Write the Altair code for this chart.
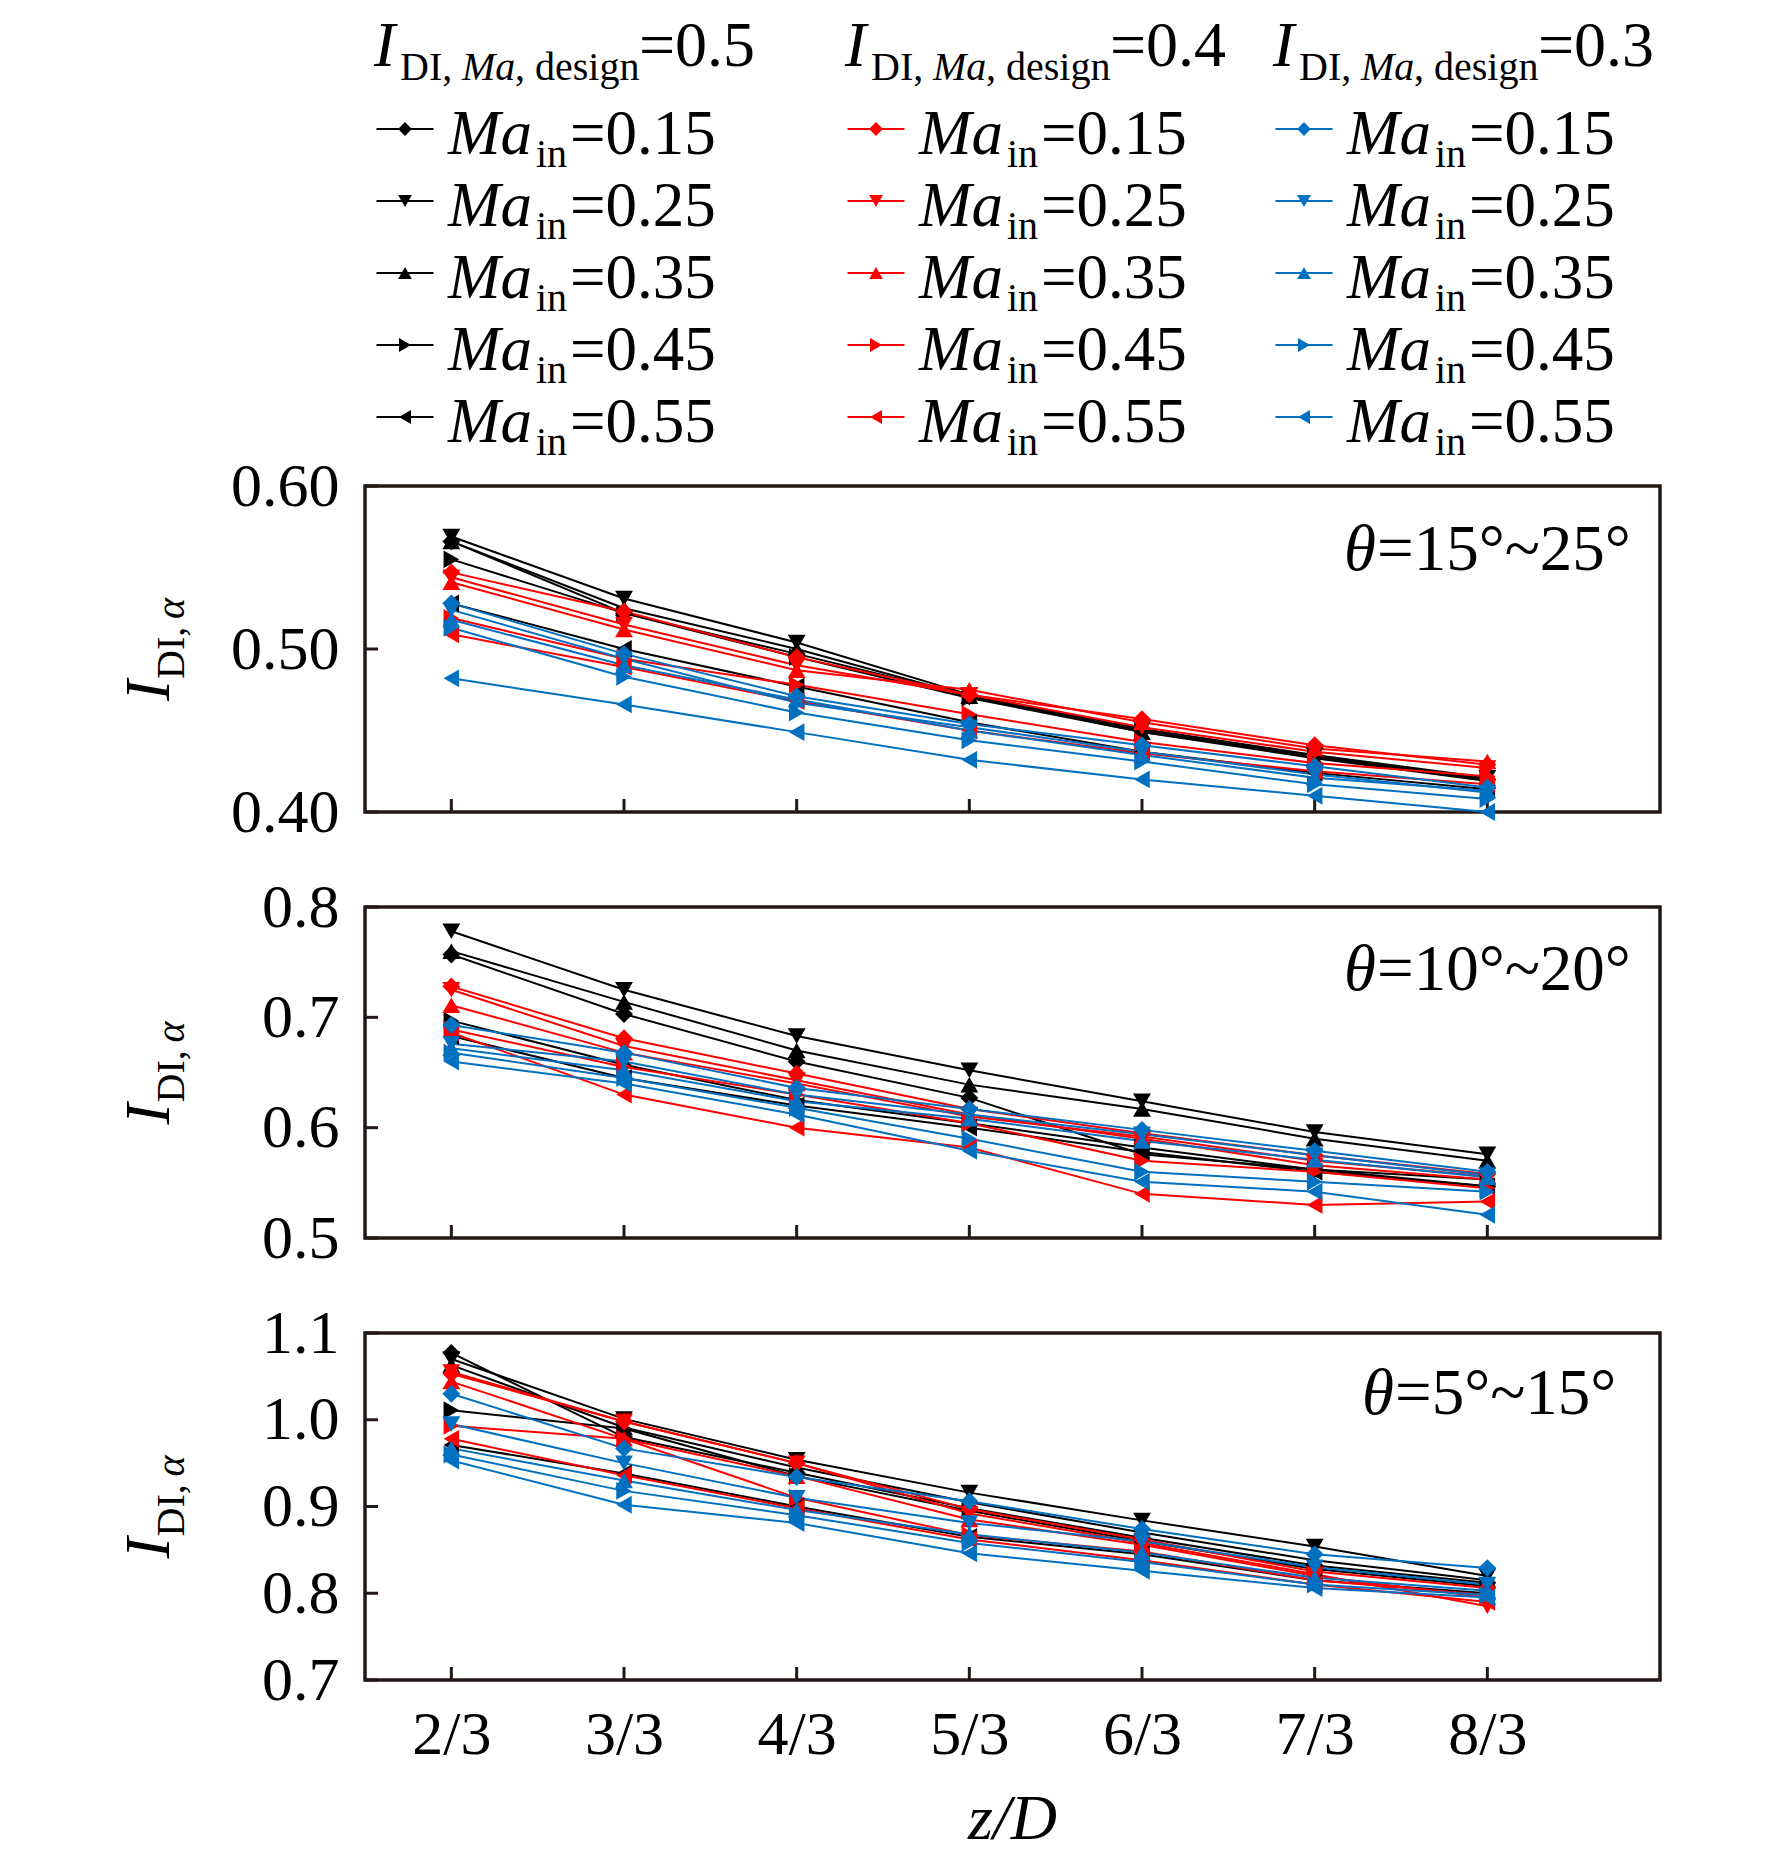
import altair as alt
import pandas as pd

# ---------------- data ----------------
z_num = [2, 3, 4, 5, 6, 7, 8]          # z/D = n/3
designs = ["0.5", "0.4", "0.3"]       # I_DI,Ma,design
ma_list = ["0.15", "0.25", "0.35", "0.45", "0.55"]
colors = ["#000000", "#ff0000", "#0070c0"]
shapes = ["diamond", "triangle-down", "triangle-up", "triangle-right", "triangle-left"]

# Panel 1: theta = 15~25 deg
p1_d05 = [
    [0.566, 0.522, 0.497, 0.471, 0.450, 0.434, 0.420],
    [0.569, 0.531, 0.504, 0.472, 0.451, 0.435, 0.421],
    [0.566, 0.525, 0.500, 0.471, 0.449, 0.433, 0.419],
    [0.555, 0.522, 0.495, 0.470, 0.449, 0.434, 0.420],
    [0.528, 0.500, 0.477, 0.455, 0.437, 0.424, 0.414],
]
p1_d04 = [
    [0.547, 0.523, 0.495, 0.472, 0.457, 0.441, 0.429],
    [0.544, 0.515, 0.490, 0.472, 0.452, 0.437, 0.427],
    [0.541, 0.512, 0.487, 0.475, 0.455, 0.439, 0.431],
    [0.519, 0.494, 0.478, 0.460, 0.443, 0.430, 0.422],
    [0.509, 0.489, 0.468, 0.450, 0.436, 0.425, 0.417],
]
p1_d03 = [
    [0.528, 0.497, 0.471, 0.454, 0.441, 0.428, 0.415],
    [0.524, 0.494, 0.467, 0.452, 0.437, 0.423, 0.412],
    [0.518, 0.490, 0.469, 0.450, 0.435, 0.421, 0.413],
    [0.513, 0.483, 0.461, 0.444, 0.431, 0.417, 0.408],
    [0.482, 0.466, 0.449, 0.432, 0.420, 0.410, 0.400],
]

# Panel 2: theta = 10~20 deg
p2_d05 = [
    [0.757, 0.703, 0.660, 0.627, 0.576, 0.562, 0.547],
    [0.778, 0.725, 0.683, 0.652, 0.624, 0.596, 0.576],
    [0.760, 0.714, 0.670, 0.639, 0.617, 0.590, 0.570],
    [0.697, 0.657, 0.625, 0.604, 0.582, 0.562, 0.553],
    [0.683, 0.645, 0.620, 0.600, 0.578, 0.560, 0.547],
]
p2_d04 = [
    [0.728, 0.681, 0.649, 0.617, 0.595, 0.575, 0.558],
    [0.725, 0.674, 0.643, 0.612, 0.590, 0.566, 0.553],
    [0.711, 0.668, 0.640, 0.610, 0.592, 0.570, 0.556],
    [0.689, 0.655, 0.630, 0.604, 0.570, 0.560, 0.545],
    [0.686, 0.630, 0.600, 0.582, 0.540, 0.530, 0.533],
]
p2_d03 = [
    [0.693, 0.668, 0.636, 0.617, 0.598, 0.579, 0.560],
    [0.676, 0.660, 0.630, 0.612, 0.594, 0.575, 0.557],
    [0.672, 0.652, 0.624, 0.608, 0.588, 0.571, 0.555],
    [0.668, 0.645, 0.618, 0.590, 0.560, 0.551, 0.542],
    [0.660, 0.640, 0.612, 0.579, 0.551, 0.542, 0.521],
]

# Panel 3: theta = 5~15 deg
p3_d05 = [
    [1.077, 0.980, 0.939, 0.898, 0.864, 0.832, 0.812],
    [1.070, 1.001, 0.954, 0.916, 0.884, 0.854, 0.820],
    [1.063, 0.991, 0.945, 0.905, 0.870, 0.838, 0.815],
    [1.011, 0.990, 0.935, 0.895, 0.860, 0.828, 0.808],
    [0.971, 0.938, 0.900, 0.865, 0.845, 0.815, 0.800],
]
p3_d04 = [
    [1.053, 0.998, 0.950, 0.897, 0.862, 0.825, 0.806],
    [1.055, 0.998, 0.950, 0.892, 0.858, 0.822, 0.785],
    [1.044, 0.978, 0.935, 0.885, 0.856, 0.820, 0.795],
    [0.993, 0.978, 0.910, 0.867, 0.848, 0.815, 0.798],
    [0.978, 0.936, 0.898, 0.862, 0.838, 0.810, 0.790],
]
p3_d03 = [
    [1.030, 0.967, 0.934, 0.906, 0.874, 0.845, 0.829],
    [0.995, 0.950, 0.910, 0.881, 0.860, 0.830, 0.810],
    [0.967, 0.930, 0.896, 0.868, 0.847, 0.818, 0.803],
    [0.960, 0.918, 0.890, 0.858, 0.836, 0.810, 0.798],
    [0.953, 0.902, 0.881, 0.846, 0.826, 0.806, 0.795],
]

# ---------------- styling ----------------
FONT = "Liberation Serif, Times New Roman, serif"
FRAME = "#231815"
W = 1295


def long_df(groups):
    rows = []
    for d, series in zip(designs, groups):
        for m, vals in zip(ma_list, series):
            for z, v in zip(z_num, vals):
                rows.append({"design": d, "ma": m, "series": d + "_" + m, "z": z, "v": v})
    return pd.DataFrame(rows)


one = pd.DataFrame({"k": [0]})

color_enc = alt.Color("design:N", scale=alt.Scale(domain=designs, range=colors), legend=None)
shape_enc = alt.Shape("ma:N", scale=alt.Scale(domain=ma_list, range=shapes), legend=None)


def txt(s, **kw):
    base = dict(font=FONT, color="black")
    base.update(kw)
    return alt.Chart(one).mark_text(**base).encode(text=alt.value(s))


def make_panel(groups, h, ydom, yticks, fmt, rest, tx, ty, bottom=False, anchor=False):
    df = long_df(groups)
    if bottom:
        xaxis = alt.Axis(values=z_num, labelExpr="datum.value + '/3'", ticks=False, tickSize=0,
                         domain=False, grid=False, labelFont=FONT, labelFontSize=62,
                         labelColor="black", labelPadding=24, labelFlush=False, title=None)
    else:
        xaxis = None
    xenc = alt.X("z:Q", scale=alt.Scale(domain=[1.5, 9], nice=False, zero=False), axis=xaxis)
    yenc = alt.Y("v:Q", scale=alt.Scale(domain=ydom, nice=False, zero=False),
                 axis=alt.Axis(values=yticks, format=fmt, ticks=False, tickSize=0, domain=False,
                               grid=False, labelFont=FONT, labelFontSize=62, labelColor="black",
                               labelPadding=26, labelFlush=False, labelOverlap=False, title=None))

    lines = alt.Chart(df).mark_line(strokeWidth=2).encode(x=xenc, y=yenc, color=color_enc,
                                                           detail="series:N")
    pts = alt.Chart(df).mark_point(filled=True, size=320, opacity=1).encode(
        x=xenc, y=yenc, color=color_enc, shape=shape_enc)
    xt = alt.Chart(pd.DataFrame({"z": z_num})).mark_rule(color=FRAME, strokeWidth=3).encode(
        x=xenc, y=alt.value(h), y2=alt.value(h - 13))
    yt = alt.Chart(pd.DataFrame({"v": yticks})).mark_rule(color=FRAME, strokeWidth=3).encode(
        y=yenc, x=alt.value(0), x2=alt.value(13))

    layers = [xt, yt, lines, pts]
    # panel label  theta=...
    layers.append(txt("θ", fontSize=65, fontStyle="italic", align="left", baseline="middle")
                  .encode(x=alt.value(tx), y=alt.value(ty)))
    layers.append(txt(rest, fontSize=65, align="left", baseline="middle", dx=33)
                  .encode(x=alt.value(tx), y=alt.value(ty)))
    # y title  I_{DI, alpha}
    yx, yy = -196, h / 2
    layers.append(txt("I", fontSize=63, fontStyle="italic", angle=270, align="left",
                      baseline="alphabetic", dx=-52).encode(x=alt.value(yx), y=alt.value(yy)))
    layers.append(txt("DI,", fontSize=40, angle=270, align="left",
                      baseline="alphabetic", dx=-30, dy=15).encode(x=alt.value(yx), y=alt.value(yy)))
    layers.append(txt("α", fontSize=40, fontStyle="italic", angle=270, align="left",
                      baseline="alphabetic", dx=30, dy=15).encode(x=alt.value(yx), y=alt.value(yy)))
    if bottom:
        layers.append(txt("z/D", fontSize=64, fontStyle="italic", align="center", baseline="middle")
                      .encode(x=alt.value(W / 2), y=alt.value(h + 140)))
    if anchor:
        layers.append(alt.Chart(one).mark_rule(opacity=0, strokeWidth=1).encode(
            x=alt.value(-355), x2=alt.value(-354), y=alt.value(10), y2=alt.value(20)))
    return alt.layer(*layers).properties(width=W, height=h)


# ---------------- legend ----------------
leg_rows = []
for ci, d in enumerate(designs):
    for ri, m in enumerate(ma_list):
        leg_rows.append({"ci": ci, "ri": ri, "design": d, "ma": m, "lab": "=" + m})
leg_df = pd.DataFrame(leg_rows)
head_df = pd.DataFrame({"ci": [0, 1, 2], "lab": ["=" + d for d in designs]})

lx = alt.X("ci:Q", scale=alt.Scale(domain=[0, 1, 2], range=[9, 480, 908]), axis=None)
ly = alt.Y("ri:Q", scale=alt.Scale(domain=[0, 4], range=[121, 409]), axis=None)
LH = 383

leg_line = alt.Chart(leg_df).mark_point(shape="M-1,0L1,0", size=3249, filled=False, strokeWidth=2,
                                        opacity=1, xOffset=31).encode(x=lx, y=ly, color=color_enc)
leg_mark = alt.Chart(leg_df).mark_point(filled=True, size=190, opacity=1, xOffset=31).encode(
    x=lx, y=ly, color=color_enc, shape=shape_enc)
leg_ma = alt.Chart(leg_df).mark_text(font=FONT, fontSize=63, fontStyle="italic", align="left",
                                     baseline="alphabetic", dx=74, dy=25, color="black").encode(
    x=lx, y=ly, text=alt.value("Ma"))
leg_in = alt.Chart(leg_df).mark_text(font=FONT, fontSize=40, align="left",
                                     baseline="alphabetic", dx=162, dy=38, color="black").encode(
    x=lx, y=ly, text=alt.value("in"))
leg_val = alt.Chart(leg_df).mark_text(font=FONT, fontSize=63, align="left",
                                      baseline="alphabetic", dx=196, dy=25, color="black").encode(
    x=lx, y=ly, text="lab:N")

HB = 58
def head_piece(s, size, dx, dy=0, italic=False, field=False):
    kw = dict(font=FONT, fontSize=size, align="left", baseline="alphabetic", dx=dx, dy=dy,
              color="black")
    if italic:
        kw["fontStyle"] = "italic"
    return alt.Chart(head_df).mark_text(**kw).encode(
        x=lx, y=alt.value(HB), text=("lab:N" if field else alt.value(s)))

heads = [
    head_piece("I", 64, 0, italic=True),
    head_piece("DI,", 40, 26, 14),
    head_piece("Ma", 40, 88, 14, italic=True),
    head_piece(", design", 40, 141, 14),
    head_piece("", 64, 265, field=True),
]
top_anchor = alt.Chart(one).mark_rule(opacity=0, strokeWidth=1).encode(
    x=alt.value(100), x2=alt.value(110), y=alt.value(0), y2=alt.value(1))

legend = alt.layer(top_anchor, leg_line, leg_mark, leg_ma, leg_in, leg_val, *heads).properties(
    width=W, height=LH, view=alt.ViewBackground(strokeOpacity=0))

# ---------------- panels ----------------
p1 = make_panel([p1_d05, p1_d04, p1_d03], 326, [0.40, 0.60], [0.40, 0.50, 0.60], ".2f",
                "=15°~25°", 979, 64, anchor=True)
p2 = make_panel([p2_d05, p2_d04, p2_d03], 331, [0.5, 0.8], [0.5, 0.6, 0.7, 0.8], ".1f",
                "=10°~20°", 979, 63)
p3 = make_panel([p3_d05, p3_d04, p3_d03], 347, [0.7, 1.1], [0.7, 0.8, 0.9, 1.0, 1.1], ".1f",
                "=5°~15°", 997, 61, bottom=True)

chart = alt.vconcat(legend, p1, p2, p3, spacing=95, bounds="flush").properties(
    padding=0, background="white"
).configure_view(stroke=FRAME, strokeWidth=3.5).configure_axis(grid=False)

chart.save("out.html", embed_options={"renderer": "svg", "actions": False})
